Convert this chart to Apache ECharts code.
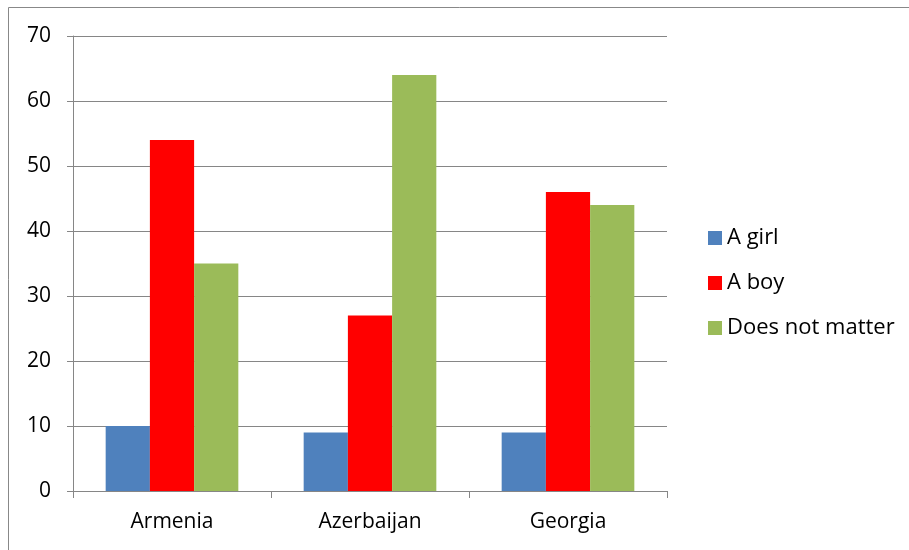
<!DOCTYPE html>
<html><head><meta charset="utf-8">
<script src="https://cdn.jsdelivr.net/npm/echarts@6/dist/echarts.min.js"></script>
<style>html,body{margin:0;padding:0;background:#fff}#c{width:909px;height:550px}</style>
</head><body><div id="c"></div>
<script>
const categories = ['Armenia', 'Azerbaijan', 'Georgia'];
const seriesNames = ['A girl', 'A boy', 'Does not matter'];
const girl = [10, 9, 9];
const boy = [54, 27, 46];
const noMatter = [35, 64, 44];
const colors = ['#4F81BD', '#FF0000', '#9BBB59'];
const font = 'Open Sans, Liberation Sans, sans-serif';
const chart = echarts.init(document.getElementById('c'));
chart.setOption({
  animation: false,
  backgroundColor: '#fff',
  textStyle: { fontFamily: font },
  graphic: [{ type: 'rect', shape: { x: 8.5, y: 7.5, width: 1200, height: 1200 }, style: { fill: 'none', stroke: '#888', lineWidth: 1 }, silent: true }],
  grid: { left: 73, right: 242, top: 36, bottom: 59 },
  legend: {
    orient: 'vertical', left: 708, top: 227, padding: 0, itemWidth: 14, itemHeight: 14, itemGap: 23,
    icon: 'rect', textStyle: { fontSize: 22, color: '#000', fontFamily: font },
    data: seriesNames
  },
  xAxis: {
    type: 'category', data: categories,
    axisLine: { lineStyle: { color: '#868686' } },
    axisTick: { show: true, length: 7, lineStyle: { color: '#868686' } },
    axisLabel: { fontSize: 21, color: '#000', margin: 21, fontFamily: font }
  },
  yAxis: {
    type: 'value', min: 0, max: 70, interval: 10,
    axisLine: { show: true, lineStyle: { color: '#868686' } },
    axisTick: { show: true, length: 6, lineStyle: { color: '#868686' } },
    splitLine: { lineStyle: { color: '#868686' } },
    axisLabel: { fontSize: 21, color: '#000', margin: 22, fontFamily: font }
  },
  series: [
    { name: seriesNames[0], type: 'bar', data: girl, itemStyle: { color: colors[0] }, barGap: '0%', barCategoryGap: '33%' },
    { name: seriesNames[1], type: 'bar', data: boy, itemStyle: { color: colors[1] }, barGap: '0%', barCategoryGap: '33%' },
    { name: seriesNames[2], type: 'bar', data: noMatter, itemStyle: { color: colors[2] }, barGap: '0%', barCategoryGap: '33%' }
  ]
});
</script></body></html>
